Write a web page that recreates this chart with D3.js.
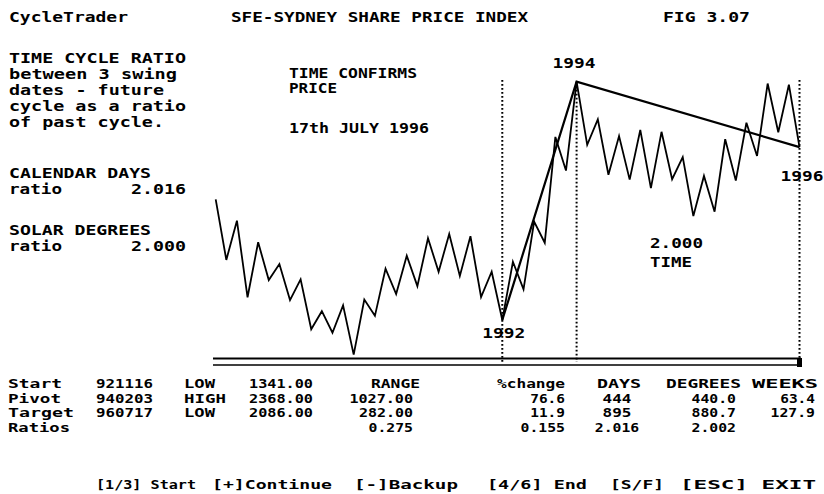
<!DOCTYPE html>
<html><head><meta charset="utf-8">
<script src="https://cdn.jsdelivr.net/npm/d3@7"></script>
<style>
html,body{margin:0;padding:0;background:#fff;}
svg{display:block;}
text{font-family:"DejaVu Sans Mono","Liberation Mono",monospace;font-weight:bold;font-size:14px;fill:#000;}
text.tb{font-size:12.4px;}
text.mn{font-size:13px;}
text.nt{font-size:13.6px;}
</style>
</head><body>
<svg id="c" width="824" height="494"></svg>
<script>
// ---------- DATA ----------
// swing-point closes (index = swing number)
const prices = [1861,1600,1769,1439,1676,1513,1582,1427,1516,1301,1379,1286,1404,1192,
  1429,1359,1562,1453,1618,1487,1693,1549,1712,1531,1702,1440,1549,1341,
  1592,1473,1765,1674,2130,1985,2368,2096,2206,1967,2134,1946,2160,1909,
  2152,1948,2043,1789,1962,1808,2120,1942,2191,2048,2360,2150,2355,2086];
const pivotIndex = [27, 34, 55];
const pivotLabels = ["1992", "1994", "1996"];

const titleTexts = ["CycleTrader", "SFE-SYDNEY SHARE PRICE INDEX", "FIG 3.07"];
const noteLines = ["TIME CYCLE RATIO", "between 3 swing", "dates - future", "cycle as a ratio", "of past cycle."];
const ratioLabels = ["CALENDAR DAYS", "SOLAR DEGREES"];
const ratioValues = ["2.016", "2.000"];
const confirmLines = ["TIME CONFIRMS", "PRICE", "17th JULY 1996"];
const timeNote = ["2.000", "TIME"];

const rowLabels = ["Start", "Pivot", "Target", "Ratios"];
const rowDates = ["921116", "940203", "960717"];
const rowTypes = ["LOW", "HIGH", "LOW"];
const rowPrices = ["1341.00", "2368.00", "2086.00"];
const colHeaders = ["RANGE", "%change", "DAYS", "DEGREES", "WEEKS"];
const colRange = ["1027.00", "282.00", "0.275"];
const colChange = ["76.6", "11.9", "0.155"];
const colDays = ["444", "895", "2.016"];
const colDegrees = ["440.0", "880.7", "2.002"];
const colWeeks = ["63.4", "127.9"];
const menuItems = ["[1/3] Start", "[+]Continue", "[-]Backup", "[4/6] End", "[S/F]", "[ESC] EXIT"];

// ---------- DRAW ----------
const svg = d3.select("#c");
const x = d3.scaleLinear().domain([0, prices.length - 1]).range([215.7, 799.5]);
const y = d3.scaleLinear().domain([1341, 2368]).range([320, 81.7]);

function txt(s, px, py, w, anchor, cls) {
  const t = svg.append("text").attr("x", px).attr("y", py).text(s);
  if (cls) t.attr("class", cls);
  if (anchor) t.attr("text-anchor", anchor);
  if (w) t.attr("textLength", w).attr("lengthAdjust", "spacingAndGlyphs");
  return t;
}

// dotted verticals
const vTop = [80, null, 80];
pivotIndex.forEach((pi, k) => {
  svg.append("line")
    .attr("x1", x(pi)).attr("x2", x(pi))
    .attr("y1", vTop[k] === null ? y(prices[pi]) : vTop[k]).attr("y2", 362)
    .attr("stroke", "#000").attr("stroke-width", 2)
    .attr("stroke-dasharray", "1.8,2.2");
});

// price zigzag
const line = d3.line().x((d, i) => x(i)).y(d => y(d));
svg.append("path").datum(prices).attr("d", line)
  .attr("fill", "none").attr("stroke", "#000").attr("stroke-width", 1.8)
  .attr("stroke-linejoin", "miter");

// swing trend lines
const tl = d3.line().x(i => x(i)).y(i => y(prices[i]));
svg.append("path").datum(pivotIndex).attr("d", tl)
  .attr("fill", "none").attr("stroke", "#000").attr("stroke-width", 2.2);

// bottom scroll bar
svg.append("line").attr("x1", 213).attr("x2", 801).attr("y1", 358.5).attr("y2", 358.5)
  .attr("stroke", "#000").attr("stroke-width", 2);
svg.append("line").attr("x1", 213).attr("x2", 801).attr("y1", 365).attr("y2", 365)
  .attr("stroke", "#000").attr("stroke-width", 1.6);
svg.append("rect").attr("x", 797).attr("y", 358).attr("width", 5).attr("height", 9).attr("fill", "#000");

// titles
txt(titleTexts[0], 9, 22, 119);
txt(titleTexts[1], 231, 22, 297);
txt(titleTexts[2], 663, 22, 87);

// left notes
const noteW = [177, 168, 155, 177, 155];
const noteY = [63, 79, 95, 111, 127];
noteLines.forEach((s, i) => txt(s, 9, noteY[i], noteW[i], null, "nt"));
ratioLabels.forEach((s, i) => {
  const by = [178, 235][i];
  txt(s, 9, by, 142, null, "nt");
  txt("ratio", 9, by + 16, 53, null, "nt");
  txt(ratioValues[i], 131, by + 16, 55, null, "nt");
});

// chart annotations
txt(confirmLines[0], 289, 78, 128);
txt(confirmLines[1], 289, 93, 48);
txt(confirmLines[2], 289, 133, 140);
const pLab = [{dx: -20, by: 338}, {dx: -24, by: 68}, {dx: -19, by: 181}];
pivotIndex.forEach((pi, k) => txt(pivotLabels[k], x(pi) + pLab[k].dx, pLab[k].by, 43));
txt(timeNote[0], 650, 248, 53);
txt(timeNote[1], 650, 267, 42);

// table
const rowY = [388, 402.5, 417, 431.5];
const lw = [54, 53, 66, 62];
rowLabels.forEach((s, i) => txt(s, 8, rowY[i], lw[i], null, "tb"));
rowDates.forEach((s, i) => txt(s, 96, rowY[i], 57, null, "tb"));
rowTypes.forEach((s, i) => txt(s, 184, rowY[i], s.length === 3 ? 31 : 42, null, "tb"));
rowPrices.forEach((s, i) => txt(s, 249, rowY[i], 64, null, "tb"));

const headerPos = [[371, 49], [497, 68], [597, 44], [666, 75], [752, 66]];
colHeaders.forEach((s, i) => txt(s, headerPos[i][0], rowY[0], headerPos[i][1], null, "tb"));
const cw = s => s.replace(".", "").length * 9.6 + (s.includes(".") ? 6 : 0);
colRange.forEach((s, i) => txt(s, 413, rowY[i + 1], cw(s), "end", "tb"));
colChange.forEach((s, i) => txt(s, 565, rowY[i + 1], cw(s), "end", "tb"));
colDays.forEach((s, i) => txt(s, 617, rowY[i + 1], cw(s), "middle", "tb"));
colDegrees.forEach((s, i) => txt(s, 736, rowY[i + 1], cw(s), "end", "tb"));
colWeeks.forEach((s, i) => txt(s, 815, rowY[i + 1], cw(s), "end", "tb"));

// menu
const menuPos = [[96, 100], [212, 120], [354, 104], [487, 100], [610, 54], [680, 136]];
menuItems.forEach((s, i) => txt(s, menuPos[i][0], 489, menuPos[i][1], null, "mn"));
</script>
</body></html>
